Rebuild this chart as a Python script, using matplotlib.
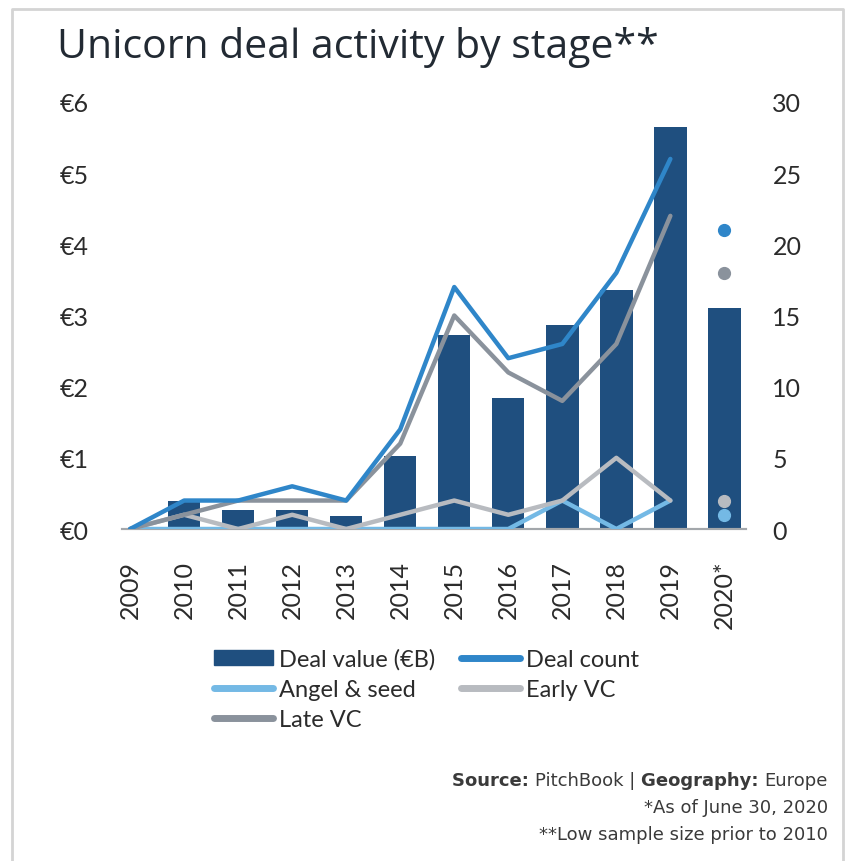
import numpy as np
import matplotlib.pyplot as plt
from matplotlib.lines import Line2D
from matplotlib.patches import Patch

years = ["2009", "2010", "2011", "2012", "2013", "2014", "2015",
         "2016", "2017", "2018", "2019", "2020*"]
deal_value = [0.0, 0.39, 0.27, 0.27, 0.18, 1.02, 2.72, 1.84, 2.86, 3.36, 5.65, 3.10]
deal_count = [0, 2, 2, 3, 2, 7, 17, 12, 13, 18, 26, 21]
angel_seed = [0, 0, 0, 0, 0, 0, 0, 0, 2, 0, 2, 1]
early_vc = [0, 1, 0, 1, 0, 1, 2, 1, 2, 5, 2, 2]
late_vc = [0, 1, 2, 2, 2, 6, 15, 11, 9, 13, 22, 18]

c_bar = "#1f4f7f"
c_count = "#2f86c9"
c_angel = "#74b9e5"
c_early = "#b8bbc0"
c_late = "#8a929c"
txt = "#2b2b2b"

fam = ["Lato", "DejaVu Sans"]
foot = ["DejaVu Sans"]

fig = plt.figure(figsize=(8.53, 8.62), dpi=100)
W, H = 853, 862

# border around the panel
border = Line2D([12 / W, 12 / W, 843 / W, 843 / W], [0, 1 - 10 / H, 1 - 10 / H, 0],
                color="#d4d4d4", lw=2, transform=fig.transFigure)
fig.add_artist(border)

fig.text(57 / W, 1 - 48 / H, "Unicorn deal activity by stage**", fontsize=29.5,
         color="#222a33", family=["Open Sans", "DejaVu Sans"], va="center")

ax = fig.add_axes([122 / W, 1 - 530 / H, (746 - 122) / W, (530 - 103) / H])
ax2 = ax.twinx()

x = np.arange(len(years))
ax.bar(x[1:], deal_value[1:], width=0.6, color=c_bar, zorder=1)
ax.set_ylim(0, 6)
ax.set_xlim(-0.15, 11.4)
ax.set_yticks(range(7))
ax.set_yticklabels([f"€{i}" for i in range(7)])
ax.set_xticks(x)
ax.set_xticklabels(years, rotation=90, va="top")
ax.tick_params(axis="y", length=0, pad=24, labelsize=18, labelcolor=txt)
ax.tick_params(axis="x", length=0, pad=22, labelsize=18, labelcolor=txt)
for lab in ax.get_xticklabels() + ax.get_yticklabels():
    lab.set_family(fam)

for a in (ax, ax2):
    for s in ("top", "left", "right"):
        a.spines[s].set_visible(False)
    a.spines["bottom"].set_color("#a3a7ab")
    a.spines["bottom"].set_linewidth(1.5)

n = len(years) - 1
lw = 3.2
ax2.plot(x[:n], angel_seed[:n], color=c_angel, lw=lw, solid_capstyle="round", zorder=3)
ax2.plot(x[:n], early_vc[:n], color=c_early, lw=lw, solid_capstyle="round", zorder=3)
ax2.plot(x[:n], late_vc[:n], color=c_late, lw=lw, solid_capstyle="round", zorder=3)
ax2.plot(x[:n], deal_count[:n], color=c_count, lw=lw, solid_capstyle="round", zorder=4)
for vals, col in [(deal_count, c_count), (late_vc, c_late),
                  (early_vc, c_early), (angel_seed, c_angel)]:
    ax2.plot(x[n], vals[n], "o", color=col, ms=8.5, zorder=5)
ax2.set_ylim(0, 30)
ax2.set_yticks(range(0, 31, 5))
ax2.tick_params(axis="y", length=0, pad=19, labelsize=18, labelcolor=txt)
for lab in ax2.get_yticklabels():
    lab.set_family(fam)

handles = [Patch(color=c_bar),
           Line2D([], [], color=c_count, lw=5, solid_capstyle="round"),
           Line2D([], [], color=c_angel, lw=5, solid_capstyle="round"),
           Line2D([], [], color=c_early, lw=5, solid_capstyle="round"),
           Line2D([], [], color=c_late, lw=5, solid_capstyle="round")]
labels = ["Deal value (€B)", "Deal count", "Angel & seed", "Early VC", "Late VC"]
order = [0, 2, 4, 1, 3]
leg = fig.legend([handles[i] for i in order], [labels[i] for i in order],
                 ncol=2, loc="upper left", bbox_to_anchor=(193 / W, 1 - 628 / H),
                 frameon=False, handlelength=2.5, handleheight=0.55,
                 handletextpad=0.25, columnspacing=1.1, labelspacing=0.38,
                 prop={"family": fam, "size": 17}, labelcolor=txt)

rx = 828 / W
ys = 1 - 781 / H
parts = [("Europe", "normal"), ("Geography: ", "bold"), ("PitchBook | ", "normal"),
         ("Source: ", "bold")]
fig.canvas.draw()
r = fig.canvas.get_renderer()
cur = rx
for s, w in parts:
    tt = fig.text(cur, ys, s, ha="right", va="center", fontsize=13,
                  color="#3a3a3a", weight=w, family=foot)
    cur -= tt.get_window_extent(renderer=r).width / W
fig.text(rx, 1 - 808 / H, "*As of June 30, 2020", ha="right", va="center",
         fontsize=13, color="#3a3a3a", family=foot)
fig.text(rx, 1 - 835 / H, "**Low sample size prior to 2010", ha="right", va="center",
         fontsize=13, color="#3a3a3a", family=foot)

fig.savefig("out.png", dpi=100)
